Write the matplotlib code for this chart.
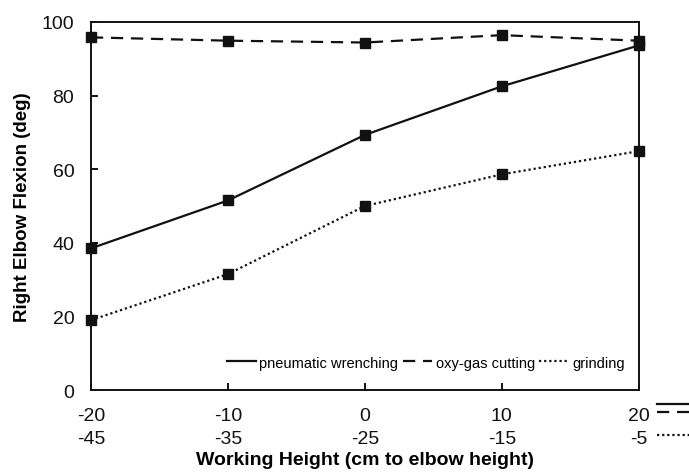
import matplotlib
matplotlib.use("Agg")
import matplotlib.pyplot as plt
from matplotlib.lines import Line2D

plt.rcParams['font.family'] = ['Liberation Sans', 'DejaVu Sans']

# working height relative to elbow (top row) and absolute (bottom row)
heights = [-20, -10, 0, 10, 20]
heights_second = [-45, -35, -25, -15, -5]

# right elbow flexion (deg)
pneumatic = [38.5, 51.5, 69.3, 82.5, 93.6]
oxy_gas = [95.8, 94.9, 94.4, 96.4, 94.9]
grinding = [19.0, 31.5, 50.0, 58.6, 64.9]

fig = plt.figure(figsize=(6.89, 4.77), dpi=100)
ax = fig.add_axes([0.132, 0.180, 0.795, 0.772])

dash = (0, (5.5, 3.5))
dot = (0, (1.0, 1.3))

ax.plot(heights, pneumatic, color='#111111', lw=1.6, linestyle='-',
        marker='s', markersize=6.5, label='pneumatic wrenching', clip_on=False)
ax.plot(heights, oxy_gas, color='#111111', lw=1.6, linestyle=dash,
        marker='s', markersize=6.5, label='oxy-gas cutting', clip_on=False)
ax.plot(heights, grinding, color='#111111', lw=1.6, linestyle=dot,
        marker='s', markersize=6.5, label='grinding', clip_on=False)

ax.set_xlim(-20, 20)
ax.set_ylim(0, 100)
ax.set_yticks([0, 20, 40, 60, 80, 100])
ax.set_xticks(heights)
ax.set_xticklabels([f"{a}\n{b}" for a, b in zip(heights, heights_second)],
                   linespacing=1.45)

for s in ax.spines.values():
    s.set_linewidth(1.4)
    s.set_color('#111111')
ax.tick_params(direction='in', length=5, width=1.4, labelsize=14,
               colors='#111111')
ax.tick_params(axis='x', pad=12)
ax.tick_params(axis='y', pad=12)

ax.set_xlabel("Working Height (cm to elbow height)", fontsize=14,
              fontweight='bold', labelpad=3)
ax.set_ylabel("Right Elbow Flexion (deg)", fontsize=13.5, fontweight='bold',
              labelpad=8)

handles = [Line2D([], [], color='#111111', lw=1.6, linestyle='-'),
           Line2D([], [], color='#111111', lw=1.6, linestyle=dash),
           Line2D([], [], color='#111111', lw=1.6, linestyle=dot)]
ax.legend(handles, ['pneumatic wrenching', 'oxy-gas cutting', 'grinding'],
          loc='lower right', bbox_to_anchor=(0.985, 0.04), ncol=3,
          frameon=False, fontsize=10.5, handlelength=2.0, handletextpad=0.25,
          columnspacing=0.3, borderaxespad=0)

# keys for the two rows of x tick labels
x0, x1 = 657 / 689, 689 / 689
fig.add_artist(Line2D([x0, x1], [1 - 405 / 477] * 2, color='#111111',
                      lw=1.6, linestyle='-'))
fig.add_artist(Line2D([x0, x1], [1 - 413 / 477] * 2, color='#111111',
                      lw=1.6, linestyle=dash))
fig.add_artist(Line2D([x0, x1], [1 - 436 / 477] * 2, color='#111111',
                      lw=1.6, linestyle=dot))

fig.savefig("out.png", dpi=100)
